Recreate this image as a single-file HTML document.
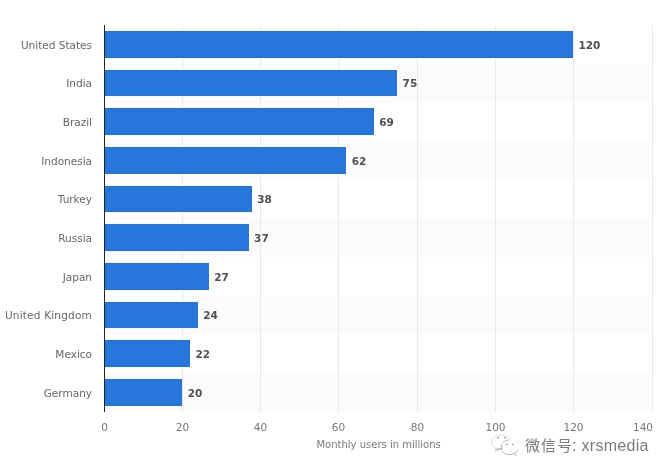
<!DOCTYPE html>
<html><head><meta charset="utf-8"><style>
html,body{margin:0;padding:0;background:#fff;}
body{width:670px;height:475px;position:relative;overflow:hidden;will-change:transform;font-family:"DejaVu Sans","Liberation Sans",sans-serif;}
.a{position:absolute;}
.band{position:absolute;background:#fbfbfb;}
.grid{position:absolute;width:1px;background:#e9e9e9;}
.bar{position:absolute;background:#2776dc;box-shadow:inset 0 1px 0 #3670b4,inset 0 -1px 0 #3670b4,0 -1px 0 #eafbff,0 1px 0 #eafbff;}
.yl{position:absolute;right:578px;font-size:10.5px;color:#666;white-space:nowrap;line-height:12px;}
.vl{position:absolute;font-size:10.5px;font-weight:bold;color:#505050;white-space:nowrap;line-height:12px;}
.xl{position:absolute;font-size:10.5px;color:#767676;white-space:nowrap;line-height:12px;width:40px;text-align:center;}
</style></head><body>

<div class="band" style="left:104.0px;top:63.66px;width:548.0px;height:38.66px"></div>
<div class="band" style="left:104.0px;top:140.98px;width:548.0px;height:38.66px"></div>
<div class="band" style="left:104.0px;top:218.30px;width:548.0px;height:38.66px"></div>
<div class="band" style="left:104.0px;top:295.62px;width:548.0px;height:38.66px"></div>
<div class="band" style="left:104.0px;top:372.94px;width:548.0px;height:38.66px"></div>
<div class="grid" style="left:182px;top:25.0px;height:386.6px"></div>
<div class="grid" style="left:260px;top:25.0px;height:386.6px"></div>
<div class="grid" style="left:338px;top:25.0px;height:386.6px"></div>
<div class="grid" style="left:417px;top:25.0px;height:386.6px"></div>
<div class="grid" style="left:495px;top:25.0px;height:386.6px"></div>
<div class="grid" style="left:573px;top:25.0px;height:386.6px"></div>
<div class="grid" style="left:652px;top:25.0px;height:386.6px"></div>
<div class="bar" style="left:104.0px;top:31.03px;width:468.96px;height:26.6px"></div>
<div class="yl" style="top:38.73px">United States</div>
<div class="vl" style="left:578.46px;top:38.73px">120</div>
<div class="bar" style="left:104.0px;top:69.69px;width:293.10px;height:26.6px"></div>
<div class="yl" style="top:77.39px">India</div>
<div class="vl" style="left:402.60px;top:77.39px">75</div>
<div class="bar" style="left:104.0px;top:108.35px;width:269.65px;height:26.6px"></div>
<div class="yl" style="top:116.05px">Brazil</div>
<div class="vl" style="left:379.15px;top:116.05px">69</div>
<div class="bar" style="left:104.0px;top:147.01px;width:242.30px;height:26.6px"></div>
<div class="yl" style="top:154.71px">Indonesia</div>
<div class="vl" style="left:351.80px;top:154.71px">62</div>
<div class="bar" style="left:104.0px;top:185.67px;width:147.72px;height:26.6px"></div>
<div class="yl" style="top:193.37px">Turkey</div>
<div class="vl" style="left:257.22px;top:193.37px">38</div>
<div class="bar" style="left:104.0px;top:224.33px;width:144.60px;height:26.6px"></div>
<div class="yl" style="top:232.03px">Russia</div>
<div class="vl" style="left:254.10px;top:232.03px">37</div>
<div class="bar" style="left:104.0px;top:262.99px;width:104.73px;height:26.6px"></div>
<div class="yl" style="top:270.69px">Japan</div>
<div class="vl" style="left:214.23px;top:270.69px">27</div>
<div class="bar" style="left:104.0px;top:301.65px;width:93.79px;height:26.6px"></div>
<div class="yl" style="letter-spacing:0.2px;top:309.35px">United Kingdom</div>
<div class="vl" style="left:203.29px;top:309.35px">24</div>
<div class="bar" style="left:104.0px;top:340.31px;width:85.98px;height:26.6px"></div>
<div class="yl" style="top:348.01px">Mexico</div>
<div class="vl" style="left:195.48px;top:348.01px">22</div>
<div class="bar" style="left:104.0px;top:378.97px;width:78.16px;height:26.6px"></div>
<div class="yl" style="top:386.67px">Germany</div>
<div class="vl" style="left:187.66px;top:386.67px">20</div>
<div class="a" style="left:104.0px;top:25.0px;width:1px;height:386.6px;background:#222"></div>
<div class="xl" style="left:84.50px;top:421px">0</div>
<div class="xl" style="left:162.50px;top:421px">20</div>
<div class="xl" style="left:240.50px;top:421px">40</div>
<div class="xl" style="left:318.50px;top:421px">60</div>
<div class="xl" style="left:397.50px;top:421px">80</div>
<div class="xl" style="left:475.50px;top:421px">100</div>
<div class="xl" style="left:553.50px;top:421px">120</div>
<div class="xl" style="left:613px;top:421px;text-align:right">140</div>
<div class="a" style="left:278.6px;width:200px;text-align:center;top:439px;font-size:10px;color:#7a7a7a;line-height:12px">Monthly users in millions</div>
<svg class="a" style="left:488px;top:432px" width="34" height="28" viewBox="0 0 34 28">
<g fill="none" stroke-linecap="round">
<path d="M12 17 C6.5 16.5 3.5 13.5 3.5 10 C3.5 6 7.5 3 13 3 C18 3 21.5 5.5 22.3 8.5" stroke="#d4d4d4" stroke-width="0.8"/>
<path d="M7.5 19 L8 16.3 M12.5 17 L7.5 19" stroke="#c4c4c4" stroke-width="0.8"/>
<path d="M13.7 13 L13.7 17.5 M9 17.2 L13.7 17.2" stroke="#9a9a9a" stroke-width="0.9"/>
<path d="M14.5 19.5 C16 21.5 18.5 22.6 22 22.6 C25.5 22.6 28.5 21 29.8 18 M14.6 10.8 C16 9.2 18 8.2 20.5 8" stroke="#a8a8a8" stroke-width="0.9"/>
<path d="M27 21.8 L28 23.6" stroke="#a0a0a0" stroke-width="0.9"/>
</g>
<g fill="#6a6a6a">
<rect x="9.2" y="5.2" width="1.6" height="1.2"/><rect x="16.2" y="5.2" width="1.6" height="1.2"/>
<rect x="18.2" y="12" width="1.3" height="1"/><rect x="24.3" y="12" width="1.3" height="1"/>
</g></svg>
<div class="a" style="left:525px;top:436px;font-size:16px;color:#7c7c7c;line-height:20px;font-family:'Liberation Sans','Noto Sans CJK SC',sans-serif;white-space:nowrap;text-shadow:0.6px 0.6px 0 rgba(255,255,255,0.9)"><span style="font-size:15px;font-weight:400;letter-spacing:1px">微信号</span><span style="letter-spacing:0.3px;margin-left:-1px">: xrsmedia</span></div>
</body></html>
